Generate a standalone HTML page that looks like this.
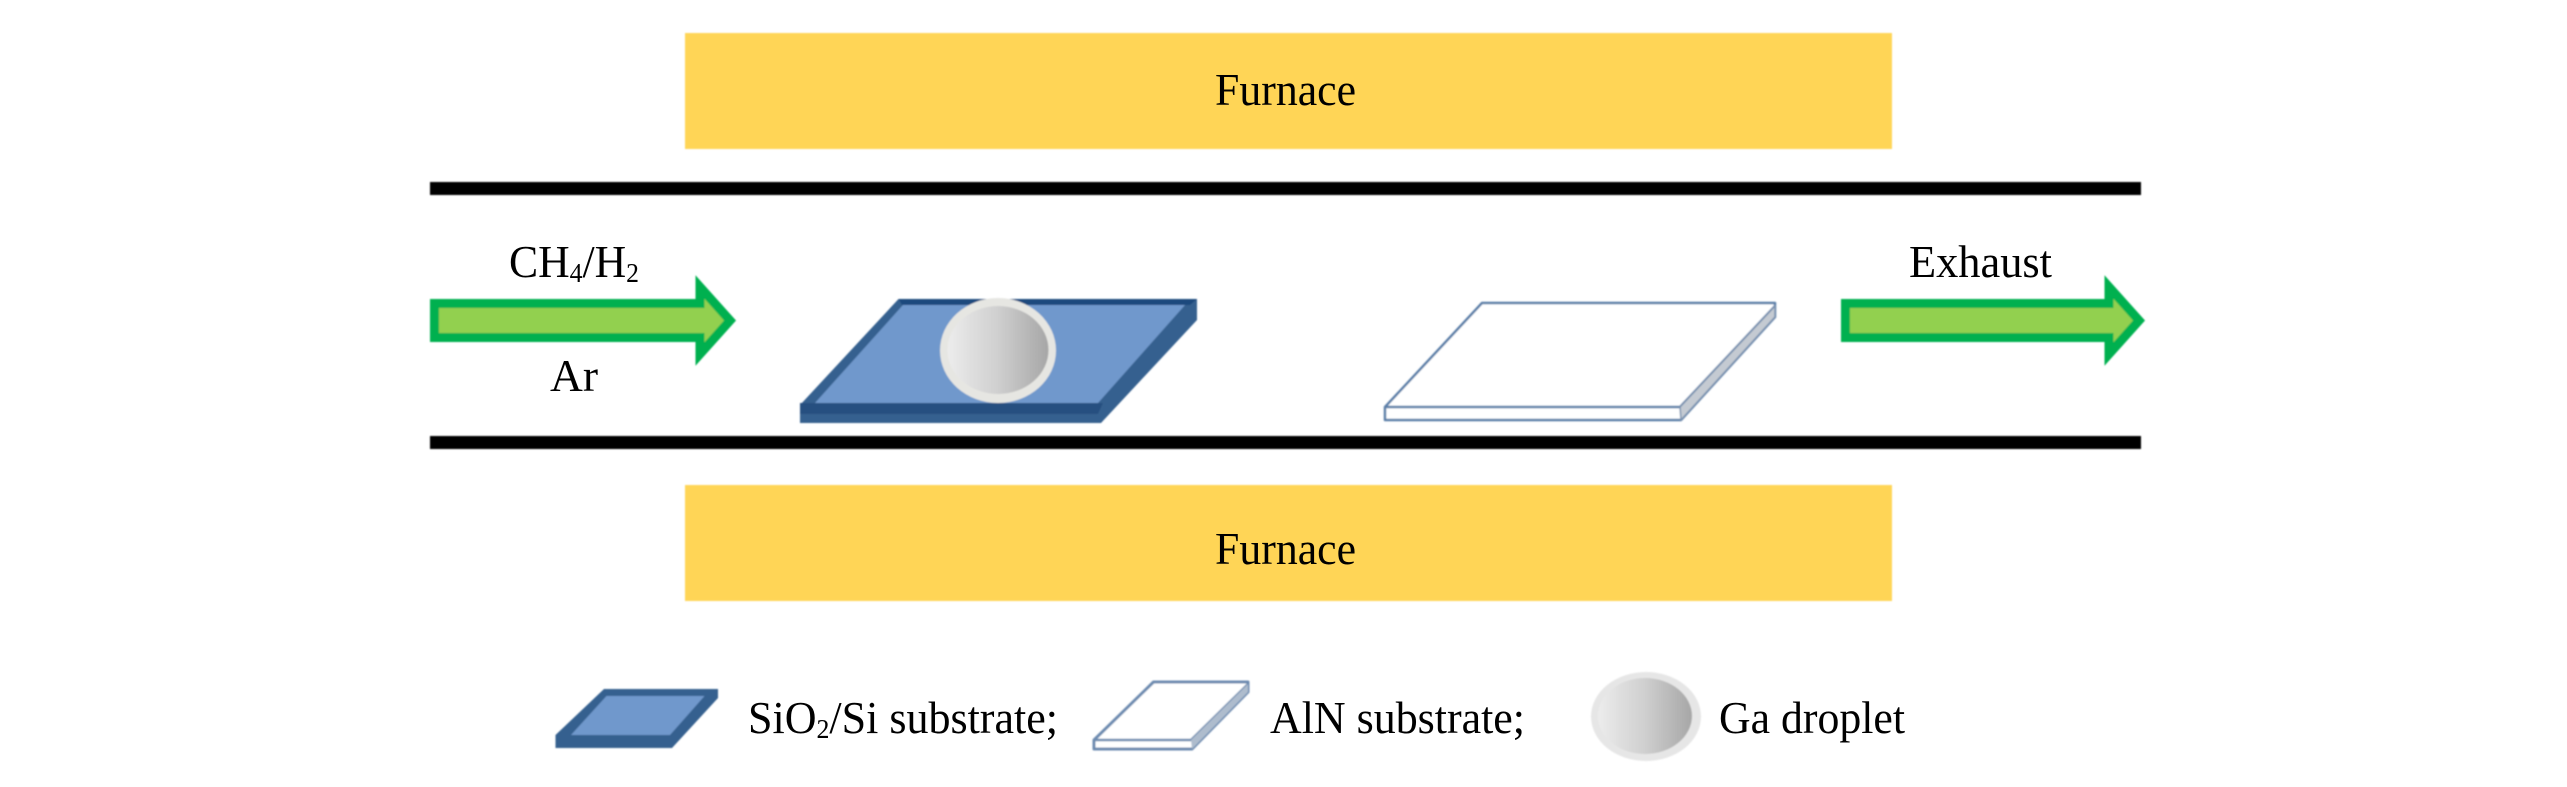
<!DOCTYPE html>
<html><head><meta charset="utf-8"><style>html,body{margin:0;padding:0;background:#fff}svg{display:block}text{font-family:"Liberation Serif",serif;font-size:46px;fill:#000}</style></head><body>
<svg xmlns="http://www.w3.org/2000/svg" width="2567" height="787" viewBox="0 0 2567 787">
<defs>
<linearGradient id="g"><stop offset="0" stop-color="#ececec"/><stop offset="0.5" stop-color="#cfcfcf"/><stop offset="1" stop-color="#a6a6a6"/></linearGradient>
<filter id="b" x="-5%" y="-5%" width="110%" height="110%"><feGaussianBlur stdDeviation="0.7"/></filter>
</defs>
<rect width="2567" height="787" fill="#fff"/>
<g filter="url(#b)">
<rect x="685" y="33" width="1207" height="116" fill="#ffd557"/>
<rect x="685" y="485" width="1207" height="116" fill="#ffd557"/>
<rect x="430" y="182" width="1711" height="13" fill="#000"/>
<rect x="430" y="436" width="1711" height="13" fill="#000"/>
<polygon points="434.5,303.5 700,303.5 700,287 730,320.5 700,354 700,337.5 434.5,337.5" fill="#92d050" stroke="#00b050" stroke-width="9"/>
<polygon points="1845.5,303.5 2109,303.5 2109,287 2139,320.5 2109,354 2109,337.5 1845.5,337.5" fill="#92d050" stroke="#00b050" stroke-width="9"/>
<polygon points="898.5,299 1197,299 1197,320 1101,423 800,423 800,405" fill="#36608f"/>
<polygon points="898.5,299 1197,299 1190,305 902,305" fill="#1f497d"/>
<polygon points="800,403 1103,403 1098,414 800,414" fill="#254f80"/>
<polygon points="903,305 1185,305 1098,403 815,403" fill="#7098cc"/>
<ellipse cx="998" cy="350.5" rx="58" ry="52.5" fill="#e6e6e2"/>
<ellipse cx="998" cy="350" rx="50.5" ry="44" fill="url(#g)"/>
<polygon points="1482,303 1775,303 1775,317 1681,420 1385,420 1385,407" fill="#fff" stroke="#5b7fa8" stroke-width="2.5" stroke-linejoin="round"/>
<polyline points="1385,407 1680,407 1775,306" fill="none" stroke="#5b7fa8" stroke-width="2.5"/>
<polygon points="1680,407 1775,306 1775,317 1681,420" fill="#c4cad2" stroke="#7c93b0" stroke-width="1.5"/>
<polygon points="604,689 718,689 718,698 672,748 555.5,748 555.5,735" fill="#36608f"/>
<polygon points="606.5,696 704.5,696 670,735 571,735" fill="#7098cc"/>
<polygon points="1153.5,682 1248,682 1248,692 1192,749 1094,749 1094,740" fill="#fff" stroke="#6d8bb0" stroke-width="3" stroke-linejoin="round"/>
<polyline points="1094,740 1191,740 1248,684" fill="none" stroke="#6d8bb0" stroke-width="2.5"/>
<polygon points="1191,740 1248,684 1248,692 1192,749" fill="#aebccd"/>
<ellipse cx="1646" cy="716.5" rx="55" ry="44.5" fill="#e6e6e6"/>
<ellipse cx="1645" cy="716" rx="47" ry="38" fill="url(#g)"/>
</g>
<text x="1215" y="105" textLength="141" lengthAdjust="spacingAndGlyphs">Furnace</text>
<text x="1215" y="564" textLength="141" lengthAdjust="spacingAndGlyphs">Furnace</text>
<text x="509" y="277" textLength="130" lengthAdjust="spacingAndGlyphs">CH<tspan font-size="27" dy="5">4</tspan><tspan dy="-5">/H</tspan><tspan font-size="27" dy="5">2</tspan></text>
<text x="550" y="391" textLength="48" lengthAdjust="spacingAndGlyphs">Ar</text>
<text x="1909" y="277" textLength="143" lengthAdjust="spacingAndGlyphs">Exhaust</text>
<text x="748" y="733" textLength="310" lengthAdjust="spacingAndGlyphs">SiO<tspan font-size="27" dy="5">2</tspan><tspan dy="-5">/Si substrate;</tspan></text>
<text x="1270" y="733" textLength="255" lengthAdjust="spacingAndGlyphs">AlN substrate;</text>
<text x="1719" y="733" textLength="186" lengthAdjust="spacingAndGlyphs">Ga droplet</text>
</svg>
</body></html>
